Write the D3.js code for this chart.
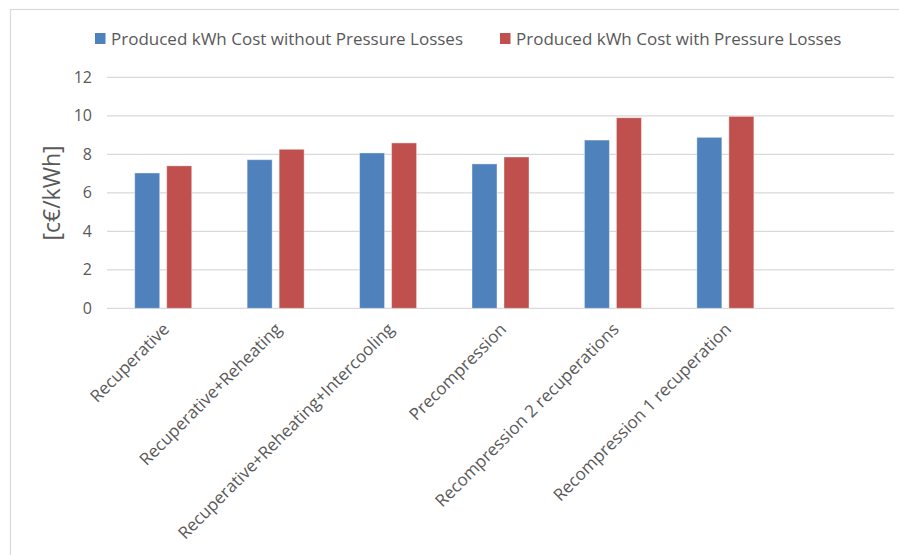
<!DOCTYPE html>
<html>
<head>
<meta charset="utf-8">
<script src="https://cdn.jsdelivr.net/npm/d3@7"></script>
<style>
  html, body { margin: 0; padding: 0; background: #fff; }
  svg { display: block; font-family: "Open Sans", "Liberation Sans", sans-serif; }
</style>
</head>
<body>
<svg id="chart" width="899" height="555"></svg>
<script>
// Cycle configurations and their produced-energy cost [c€/kWh]
const categories = [
  "Recuperative",
  "Recuperative+Reheating",
  "Recuperative+Reheating+Intercooling",
  "Precompression",
  "Recompression 2 recuperations",
  "Recompression 1 recuperation"
];
const seriesNames = [
  "Produced kWh Cost without Pressure Losses",
  "Produced kWh Cost with Pressure Losses"
];
const costWithout = [7.03, 7.72, 8.07, 7.50, 8.74, 8.88];
const costWith    = [7.40, 8.26, 8.59, 7.86, 9.90, 9.97];
const yTicks = [0, 2, 4, 6, 8, 10, 12];
const colors = ["#4F81BD", "#C0504D"];
const textColor = "#595959";

const svg = d3.select("#chart");

// Outer chart frame
svg.append("rect")
  .attr("x", 10.5).attr("y", 9.5)
  .attr("width", 1000).attr("height", 1000)
  .attr("fill", "none").attr("stroke", "#D9D9D9").attr("stroke-width", 1.2);

const plot = { left: 107, right: 894, top: 77.3, bottom: 308.3 };

// One extra empty slot keeps the layout of the category axis
const slots = categories.concat([" "]);
const x0 = d3.scaleBand().domain(slots).range([plot.left, plot.right]).paddingInner(0).paddingOuter(0);
const groupW = 57;
const x1 = d3.scaleBand().domain([0, 1])
  .range([(x0.bandwidth() - groupW) / 2, (x0.bandwidth() + groupW) / 2])
  .paddingInner(7 / 32).paddingOuter(0);
const y = d3.scaleLinear().domain([0, 12]).range([plot.bottom, plot.top]);

// Horizontal gridlines
svg.append("g").selectAll("line").data(yTicks).join("line")
  .attr("x1", plot.left).attr("x2", plot.right)
  .attr("y1", d => y(d)).attr("y2", d => y(d))
  .attr("stroke", "#D9D9D9").attr("stroke-width", 1.3);

// Y axis labels
const yAxis = d3.axisLeft(y).tickValues(yTicks).tickSize(0).tickPadding(0).tickFormat(d3.format("d"));
const ya = svg.append("g").attr("transform", `translate(${plot.left - 15},0)`).call(yAxis);
ya.select(".domain").remove();
ya.selectAll("text").attr("fill", textColor).style("font-size", "16px")
  .style("font-family", '"Open Sans", sans-serif');

// Y axis title
svg.append("text")
  .attr("transform", "translate(60,193) rotate(-90)")
  .attr("text-anchor", "middle")
  .attr("fill", textColor)
  .style("font-size", "23px")
  .text("[c€/kWh]");

// Bars
const rows = categories.map((c, i) => ({ cat: c, vals: [costWithout[i], costWith[i]] }));
const groups = svg.append("g").selectAll("g").data(rows).join("g")
  .attr("transform", d => `translate(${x0(d.cat)},0)`);
groups.selectAll("rect").data(d => d.vals.map((v, s) => ({ v, s }))).join("rect")
  .attr("x", d => x1(d.s))
  .attr("width", x1.bandwidth())
  .attr("y", d => y(d.v))
  .attr("height", d => y(0) - y(d.v))
  .attr("fill", d => colors[d.s])
  .attr("stroke", "rgba(255,255,255,0.4)")
  .attr("stroke-width", 1);

// Category labels, rotated
const xAxis = d3.axisBottom(x0).tickSize(0).tickPadding(0);
const xa = svg.append("g").attr("transform", `translate(0,${plot.bottom})`).call(xAxis);
xa.select(".domain").remove();
xa.selectAll("text")
  .attr("fill", textColor)
  .style("font-size", "17px")
  .style("font-family", '"Open Sans", sans-serif')
  .attr("text-anchor", "end")
  .attr("dy", null)
  .attr("y", 0)
  .attr("transform", "translate(7,22) rotate(-45)");

// Legend
const legend = svg.append("g");
const legendPos = [95, 500];
seriesNames.forEach((name, i) => {
  const g = legend.append("g").attr("transform", `translate(${legendPos[i]},33)`);
  g.append("rect").attr("width", 10.5).attr("height", 11).attr("fill", colors[i]);
  g.append("text").attr("x", 16).attr("y", 11.5)
    .attr("fill", textColor).style("font-size", "17px").text(name);
});
</script>
</body>
</html>
